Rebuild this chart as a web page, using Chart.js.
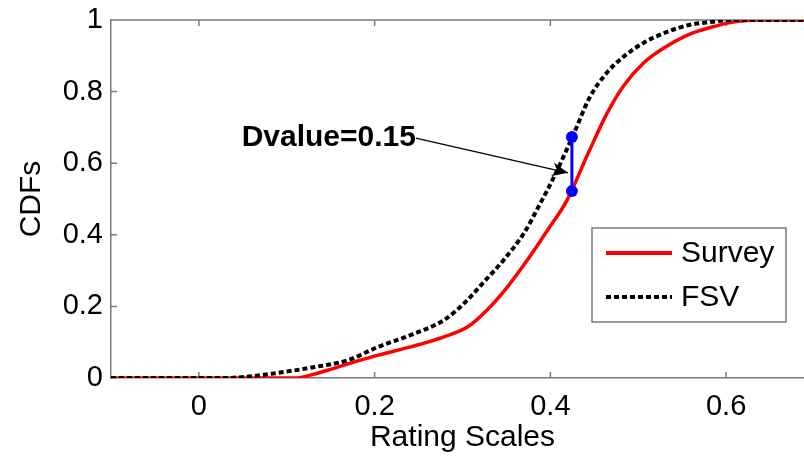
<!DOCTYPE html>
<html>
<head>
<meta charset="utf-8">
<script src="https://cdn.jsdelivr.net/npm/chart.js@4"></script>
<style>
  html, body { margin: 0; padding: 0; background: #fff; overflow: hidden; }
  #wrap { width: 820px; height: 457px; }
</style>
</head>
<body>
<div id="wrap"><canvas id="viz"></canvas></div>
<script>
// tick labels
const xTicks = [0, 0.2, 0.4, 0.6];
const yTicks = [0, 0.2, 0.4, 0.6, 0.8, 1];

// Survey CDF (red)
const surveyX = [-0.1, 0.0, 0.11, 0.13, 0.15, 0.18, 0.204, 0.241, 0.279, 0.306, 0.328, 0.351, 0.374, 0.396, 0.419, 0.442, 0.464, 0.483, 0.506, 0.532, 0.558, 0.585, 0.603, 0.635, 0.7];
const surveyY = [0, 0, 0, 0.01, 0.024, 0.047, 0.064, 0.087, 0.115, 0.143, 0.19, 0.254, 0.33, 0.41, 0.497, 0.622, 0.737, 0.815, 0.88, 0.926, 0.96, 0.981, 0.992, 1, 1];

// FSV CDF (black dotted)
const fsvX = [-0.1, 0.03, 0.06, 0.1, 0.13, 0.17, 0.204, 0.241, 0.279, 0.302, 0.325, 0.347, 0.37, 0.389, 0.404, 0.425, 0.445, 0.464, 0.483, 0.506, 0.532, 0.558, 0.585, 0.605, 0.7];
const fsvY = [0, 0, 0.005, 0.018, 0.03, 0.05, 0.087, 0.12, 0.162, 0.209, 0.27, 0.33, 0.405, 0.49, 0.561, 0.673, 0.785, 0.852, 0.897, 0.936, 0.966, 0.986, 0.995, 1, 1];

// D statistic segment + arrow annotation
const dvalueX = [0.4245, 0.4245];
const dvalueY = [0.522, 0.673];
const arrowX = [0.247, 0.42];
const arrowY = [0.670, 0.573];
const dvalueLabel = 'Dvalue=0.15';

const seriesNames = ['Survey', 'FSV'];

const toPoints = (xs, ys) => xs.map((x, i) => ({x: x, y: ys[i]}));

const FONT = "'Liberation Sans', Arial, sans-serif";
const FRAME = '#7a7a7a';

// frame on top, inward ticks, annotation text, arrowhead, legend box
const extras = {
  id: 'extras',
  beforeDatasetsDraw(chart) {
    const {ctx, chartArea: a, scales: {x, y}} = chart;
    ctx.save();
    ctx.strokeStyle = FRAME;
    ctx.lineWidth = 1.5;
    ctx.beginPath();
    ctx.moveTo(a.left, a.top);
    ctx.lineTo(a.right, a.top);
    xTicks.forEach(v => {
      const px = x.getPixelForValue(v);
      ctx.moveTo(px, a.bottom); ctx.lineTo(px, a.bottom - 6);
      ctx.moveTo(px, a.top); ctx.lineTo(px, a.top + 6);
    });
    yTicks.forEach(v => {
      const py = y.getPixelForValue(v);
      ctx.moveTo(a.left, py); ctx.lineTo(a.left + 6, py);
    });
    ctx.stroke();
    ctx.restore();
  },
  afterDraw(chart) {
    const {ctx, chartArea: a, scales: {x, y}} = chart;
    ctx.save();
    // annotation text
    ctx.fillStyle = '#000';
    ctx.font = 'bold 30px ' + FONT;
    ctx.textAlign = 'right';
    ctx.textBaseline = 'middle';
    ctx.fillText(dvalueLabel, x.getPixelForValue(arrowX[0]), y.getPixelForValue(arrowY[0]));

    // arrowhead
    const x0 = x.getPixelForValue(arrowX[0]), y0 = y.getPixelForValue(arrowY[0]);
    const x1 = x.getPixelForValue(arrowX[1]), y1 = y.getPixelForValue(arrowY[1]);
    const ang = Math.atan2(y1 - y0, x1 - x0);
    const len = 16, half = 7, notch = 11;
    ctx.translate(x1, y1);
    ctx.rotate(ang);
    ctx.beginPath();
    ctx.moveTo(0, 0);
    ctx.lineTo(-len, -half);
    ctx.lineTo(-notch, 0);
    ctx.lineTo(-len, half);
    ctx.closePath();
    ctx.fill();
    ctx.restore();

    // legend box
    ctx.save();
    const bx = a.left + 481, by = a.top + 208, bw = 194, bh = 94;
    ctx.fillStyle = '#fff';
    ctx.fillRect(bx, by, bw, bh);
    ctx.strokeStyle = FRAME;
    ctx.lineWidth = 1.5;
    ctx.strokeRect(bx, by, bw, bh);
    const rows = [
      {label: seriesNames[0], color: '#ff0000', dash: [], width: 4, dy: 25},
      {label: seriesNames[1], color: '#000000', dash: [5, 3], width: 4, dy: 69}
    ];
    rows.forEach(r => {
      ctx.beginPath();
      ctx.setLineDash(r.dash);
      ctx.strokeStyle = r.color;
      ctx.lineWidth = r.width;
      ctx.moveTo(bx + 14, by + r.dy);
      ctx.lineTo(bx + 80, by + r.dy);
      ctx.stroke();
      ctx.setLineDash([]);
      ctx.fillStyle = '#000';
      ctx.font = '30px ' + FONT;
      ctx.textAlign = 'left';
      ctx.textBaseline = 'middle';
      ctx.fillText(r.label, bx + 89, by + r.dy + 1);
    });
    ctx.restore();
  }
};

const ctx = document.getElementById('viz');

new Chart(ctx, {
  type: 'scatter',
  data: {
    datasets: [
      {
        label: 'D',
        data: toPoints(dvalueX, dvalueY),
        showLine: true,
        borderColor: '#0000ff',
        backgroundColor: '#0000ff',
        borderWidth: 3,
        pointRadius: 6,
        pointBorderWidth: 0
      },
      {
        label: 'arrow',
        data: toPoints(arrowX, arrowY),
        showLine: true,
        borderColor: '#000',
        borderWidth: 1.3,
        pointRadius: 0
      },
      {
        label: seriesNames[1],
        data: toPoints(fsvX, fsvY),
        showLine: true,
        borderColor: '#000',
        borderWidth: 4,
        borderDash: [5, 3],
        pointRadius: 0,
        cubicInterpolationMode: 'monotone'
      },
      {
        label: seriesNames[0],
        data: toPoints(surveyX, surveyY),
        showLine: true,
        borderColor: '#ff0000',
        borderWidth: 3.5,
        pointRadius: 0,
        cubicInterpolationMode: 'monotone'
      }
    ]
  },
  options: {
    responsive: true,
    maintainAspectRatio: false,
    animation: false,
    events: [],
    layout: { padding: { top: 20, right: 2, left: 0, bottom: 0 } },
    plugins: {
      legend: { display: false },
      tooltip: { enabled: false }
    },
    scales: {
      x: {
        type: 'linear',
        min: -0.1,
        max: 0.7,
        afterBuildTicks: s => { s.ticks = xTicks.map(v => ({value: v})); },
        afterFit: s => { s.height = 79; s.paddingLeft = 0; s.paddingRight = 0; },
        grid: { display: false, drawTicks: false },
        border: { display: true, color: FRAME, width: 1.5 },
        ticks: {
          color: '#000',
          font: { family: FONT, size: 29 },
          padding: 12,
          maxRotation: 0,
          callback: v => String(v)
        },
        title: {
          display: true,
          text: 'Rating Scales',
          color: '#000',
          font: { family: FONT, size: 30, lineHeight: 1.2 },
          padding: { top: 0, bottom: 1 }
        }
      },
      y: {
        type: 'linear',
        min: 0,
        max: 1,
        afterBuildTicks: s => { s.ticks = yTicks.map(v => ({value: v})); },
        afterFit: s => { s.width = 111; s.paddingTop = 0; s.paddingBottom = 0; },
        grid: { display: false, drawTicks: false },
        border: { display: true, color: FRAME, width: 1.5 },
        ticks: {
          color: '#000',
          font: { family: FONT, size: 29 },
          padding: 8,
          callback: v => String(v)
        },
        title: {
          display: true,
          text: 'CDFs',
          color: '#000',
          font: { family: FONT, size: 30, lineHeight: 1.2 },
          padding: { top: 14, bottom: 0 }
        }
      }
    }
  },
  plugins: [extras]
});
</script>
</body>
</html>
